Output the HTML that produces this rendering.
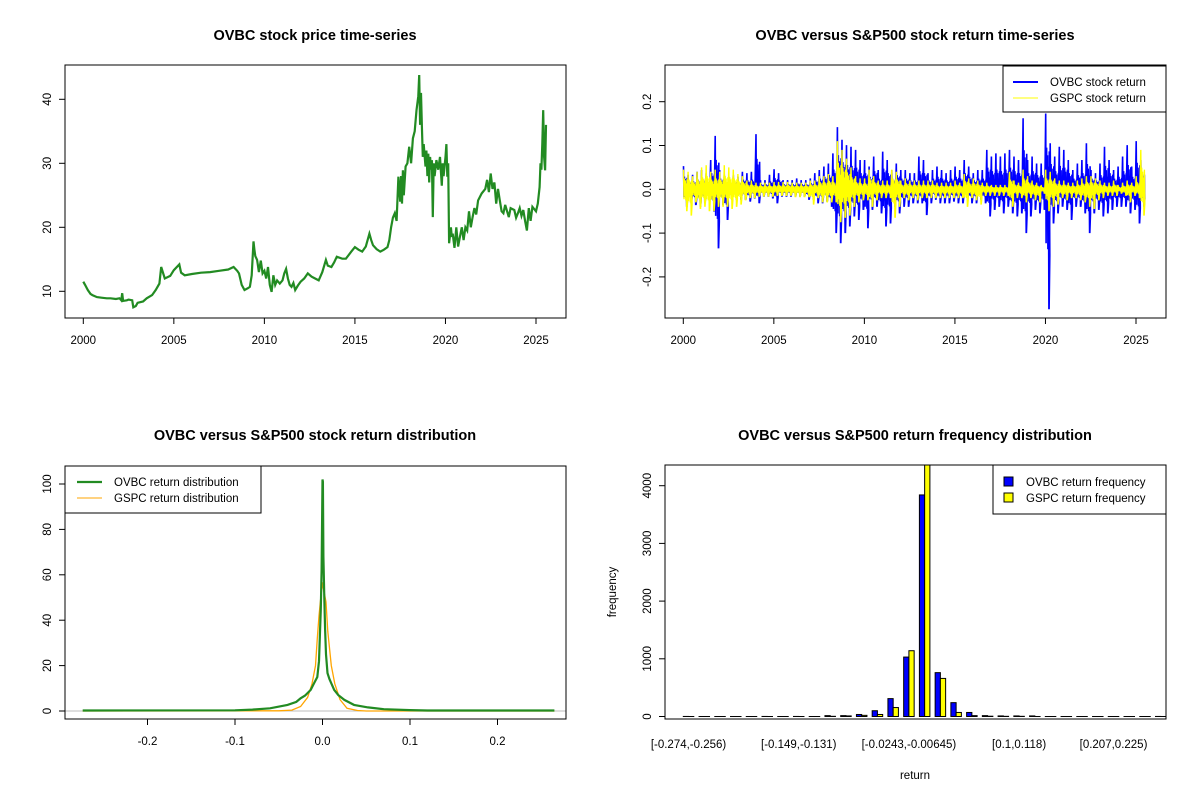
<!DOCTYPE html>
<html><head><meta charset="utf-8">
<style>
html,body{margin:0;padding:0;background:#fff;}
svg{display:block;font-family:"Liberation Sans",Arial,sans-serif;}
.t{font-weight:bold;font-size:14.5px;text-anchor:middle;}
.tk{font-size:11.5px;}
</style></head>
<body>
<svg id="fig" width="1200" height="800" viewBox="0 0 1200 800" xmlns="http://www.w3.org/2000/svg">
<rect width="1200" height="800" fill="#fff"/>
</svg>
<script>
// ---------- data: price ----------
const priceYears=[2000.0,2000.1,2000.25,2000.4,2000.5,2000.75,2001.0,2001.3,2001.5,2001.8,2002.0,2002.1,2002.15,2002.2,2002.4,2002.5,2002.7,2002.76,2002.9,2003.0,2003.3,2003.5,2003.8,2004.0,2004.2,2004.3,2004.5,2004.8,2005.0,2005.3,2005.4,2005.6,2006.0,2006.5,2007.0,2007.5,2008.0,2008.3,2008.5,2008.6,2008.75,2008.9,2009.1,2009.2,2009.3,2009.4,2009.45,2009.5,2009.6,2009.7,2009.8,2009.9,2010.0,2010.1,2010.2,2010.3,2010.4,2010.5,2010.6,2010.7,2010.85,2011.0,2011.1,2011.2,2011.3,2011.4,2011.5,2011.6,2011.7,2011.85,2012.0,2012.2,2012.4,2012.6,2012.8,2013.0,2013.2,2013.4,2013.5,2013.7,2013.85,2014.0,2014.3,2014.5,2014.8,2015.0,2015.2,2015.4,2015.6,2015.8,2015.9,2016.0,2016.2,2016.4,2016.6,2016.8,2016.9,2017.0,2017.1,2017.2,2017.3,2017.4,2017.5,2017.55,2017.6,2017.65,2017.7,2017.8,2017.9,2018.0,2018.1,2018.2,2018.3,2018.4,2018.5,2018.55,2018.6,2018.65,2018.7,2018.75,2018.8,2018.9,2018.95,2019.0,2019.05,2019.1,2019.15,2019.2,2019.25,2019.3,2019.35,2019.4,2019.5,2019.6,2019.7,2019.8,2019.85,2019.9,2020.0,2020.05,2020.1,2020.15,2020.2,2020.3,2020.35,2020.4,2020.5,2020.6,2020.7,2020.8,2020.9,2021.0,2021.1,2021.2,2021.3,2021.4,2021.5,2021.6,2021.7,2021.8,2022.0,2022.2,2022.3,2022.4,2022.5,2022.6,2022.7,2022.8,2022.9,2023.0,2023.1,2023.2,2023.3,2023.5,2023.6,2023.8,2023.9,2024.0,2024.1,2024.2,2024.3,2024.4,2024.5,2024.6,2024.7,2024.8,2025.0,2025.1,2025.2,2025.25,2025.3,2025.35,2025.4,2025.45,2025.5,2025.55];
const priceValues=[11.5,11.0,10.2,9.6,9.4,9.1,9.0,8.9,8.9,8.8,8.9,8.6,9.7,8.5,8.6,8.7,8.6,7.5,7.7,8.2,8.4,8.9,9.4,10.2,11.2,13.8,12.0,12.4,13.3,14.2,12.9,12.5,12.7,12.9,13.0,13.2,13.4,13.8,13.2,12.8,11.0,10.2,10.5,10.7,12.5,17.8,16.5,15.5,14.9,13.0,14.8,12.8,13.2,12.0,13.8,11.0,9.9,12.5,11.0,11.7,11.2,11.7,12.8,13.5,12.0,11.0,10.7,11.3,10.2,10.9,11.5,12.0,12.8,12.3,12.0,11.7,13.0,14.9,14.0,13.8,14.5,15.4,15.1,15.1,16.2,16.9,16.5,16.2,17.0,19.0,18.0,17.2,16.6,16.2,16.5,16.9,18.0,20.0,21.5,22.2,21.0,27.9,24.0,28.0,23.7,28.9,25.0,29.5,30.0,32.6,30.0,33.9,35.0,38.3,40.5,43.8,36.0,41.0,35.7,31.0,33.0,29.5,32.0,28.0,31.5,27.0,31.0,29.0,30.5,21.6,30.0,28.0,30.5,29.0,31.0,26.5,30.0,28.0,31.0,33.0,27.9,30.0,17.5,20.0,18.5,19.0,16.8,20.0,17.0,18.5,20.0,18.0,20.0,19.5,22.5,20.0,21.6,23.0,22.0,24.2,25.3,26.0,27.4,25.5,28.4,26.0,27.0,23.7,26.0,24.2,22.5,22.2,23.5,21.6,23.0,22.7,21.5,22.2,23.0,21.8,22.7,21.0,19.5,23.0,21.0,23.2,22.5,23.7,26.3,30.0,29.0,33.0,38.3,31.0,28.9,36.0,35.7];
const priceYTicks=[10,20,30,40];
const yearTicks=[2000,2005,2010,2015,2020,2025];
// ---------- data: returns (quarterly high / low) ----------
const ovbcHi=[0.053,0.033,0.033,0.040, 0.044,0.037,0.067,0.122, 0.044,0.033,0.029,0.033, 0.029,0.040,0.037,0.040, 0.126,0.021,0.021,0.033, 0.046,0.037,0.021,0.021, 0.021,0.025,0.021,0.021, 0.025,0.037,0.044,0.052, 0.059,0.082,0.142,0.113, 0.101,0.097,0.090,0.067, 0.067,0.052,0.075,0.044, 0.086,0.067,0.044,0.059, 0.044,0.044,0.037,0.037, 0.075,0.067,0.037,0.044, 0.052,0.044,0.037,0.044, 0.052,0.044,0.067,0.052, 0.037,0.044,0.044,0.090, 0.075,0.082,0.075,0.082, 0.090,0.075,0.067,0.162, 0.067,0.075,0.059,0.059, 0.173,0.105,0.075,0.097, 0.090,0.067,0.044,0.059, 0.067,0.105,0.044,0.037, 0.059,0.097,0.067,0.044, 0.052,0.075,0.101,0.052, 0.110,0.067];
const ovbcLo=[-0.040,-0.032,-0.036,-0.040, -0.032,-0.024,-0.051,-0.135, -0.036,-0.070,-0.024,-0.024, -0.024,-0.024,-0.028,-0.021, -0.032,-0.017,-0.017,-0.021, -0.032,-0.017,-0.017,-0.017, -0.017,-0.017,-0.017,-0.024, -0.024,-0.032,-0.032,-0.028, -0.040,-0.100,-0.123,-0.100, -0.085,-0.062,-0.070,-0.047, -0.089,-0.047,-0.040,-0.055, -0.085,-0.078,-0.040,-0.055, -0.040,-0.040,-0.032,-0.032, -0.032,-0.059,-0.032,-0.024, -0.032,-0.032,-0.032,-0.028, -0.032,-0.032,-0.024,-0.032, -0.032,-0.024,-0.032,-0.062, -0.047,-0.040,-0.055,-0.040, -0.055,-0.062,-0.055,-0.100, -0.062,-0.047,-0.055,-0.047, -0.274,-0.078,-0.055,-0.040, -0.047,-0.070,-0.040,-0.040, -0.055,-0.100,-0.055,-0.047, -0.062,-0.055,-0.047,-0.040, -0.040,-0.040,-0.055,-0.047, -0.078,-0.040];
const gspcHi=[0.045,0.040,0.030,0.040, 0.050,0.055,0.040,0.045, 0.040,0.055,0.050,0.045, 0.035,0.030,0.020,0.020, 0.015,0.015,0.015,0.015, 0.017,0.017,0.017,0.017, 0.015,0.015,0.015,0.015, 0.020,0.020,0.030,0.030, 0.035,0.030,0.110,0.090, 0.070,0.050,0.030,0.025, 0.025,0.045,0.030,0.020, 0.020,0.020,0.045,0.040, 0.020,0.025,0.020,0.020, 0.020,0.020,0.020,0.020, 0.015,0.015,0.015,0.015, 0.020,0.015,0.035,0.025, 0.025,0.020,0.015,0.015, 0.010,0.010,0.010,0.010, 0.040,0.020,0.015,0.045, 0.030,0.020,0.015,0.010, 0.045,0.040,0.025,0.020, 0.020,0.015,0.015,0.020, 0.025,0.030,0.030,0.025, 0.020,0.015,0.015,0.020, 0.010,0.015,0.020,0.015, 0.030,0.090];
const gspcLo=[-0.050,-0.060,-0.030,-0.045, -0.040,-0.050,-0.050,-0.040, -0.040,-0.040,-0.045,-0.040, -0.035,-0.025,-0.020,-0.020, -0.017,-0.017,-0.017,-0.017, -0.015,-0.015,-0.015,-0.015, -0.018,-0.018,-0.018,-0.018, -0.035,-0.020,-0.030,-0.030, -0.030,-0.030,-0.075,-0.065, -0.060,-0.040,-0.030,-0.025, -0.025,-0.040,-0.025,-0.020, -0.020,-0.020,-0.065,-0.040, -0.020,-0.025,-0.020,-0.025, -0.020,-0.020,-0.020,-0.020, -0.020,-0.020,-0.020,-0.020, -0.020,-0.020,-0.040,-0.020, -0.025,-0.035,-0.015,-0.015, -0.015,-0.015,-0.015,-0.015, -0.040,-0.020,-0.020,-0.030, -0.020,-0.025,-0.030,-0.010, -0.050,-0.040,-0.035,-0.020, -0.025,-0.020,-0.020,-0.025, -0.030,-0.040,-0.045,-0.025, -0.020,-0.015,-0.015,-0.015, -0.010,-0.015,-0.030,-0.015, -0.020,-0.060];
const retYTicks=[-0.2,-0.1,0.0,0.1,0.2];
const retYLabels=["-0.2","-0.1","0.0","0.1","0.2"];
// ---------- data: densities ----------
const ovbcDenX=[-0.274,-0.1,-0.08,-0.06,-0.04,-0.03,-0.025,-0.02,-0.0135,-0.01,-0.006,-0.004,-0.002,-0.001,0.0,0.0005,0.001,0.002,0.003,0.004,0.0057,0.008,0.0134,0.018,0.025,0.036,0.052,0.07,0.1,0.12,0.265];
const ovbcDenY=[0.2,0.3,0.6,1.2,2.7,4.0,5.6,6.8,9.3,12,15,22,45,62,102,101,68,50,36,25,16.7,14,9.3,7,4.9,2.7,1.6,0.8,0.4,0.2,0.2];
const gspcDenX=[-0.274,-0.05,-0.035,-0.025,-0.017,-0.012,-0.008,-0.006,-0.004,-0.002,0.0,0.0005,0.002,0.004,0.006,0.01,0.014,0.02,0.028,0.04,0.05,0.265];
const gspcDenY=[0.0,0.1,0.4,2,6,12,20,32,42,50,56.7,55,52,48,35,20,12,5,1.2,0.2,0.0,0.0];
const denXTicks=[-0.2,-0.1,0.0,0.1,0.2];
const denYTicks=[0,20,40,60,80,100];
// ---------- data: histogram ----------
const binLabels=["[-0.274,-0.256)","","","","","","","[-0.149,-0.131)","","","","","","","[-0.0243,-0.00645)","","","","","","","[0.1,0.118)","","","","","","[0.207,0.225)","","",""];
const ovbcFreq=[1,0,0,0,0,1,0,1,0,15,15,35,100,310,1030,3840,760,240,70,15,10,10,10,0,0,0,0,0,0,0,1];
const gspcFreq=[0,0,0,0,0,0,0,0,0,3,10,20,35,155,1140,4700,660,70,15,5,3,3,0,0,0,0,0,0,0,0,0];
const histYTicks=[0,1000,2000,3000,4000];

// ---------- helpers ----------
const NS="http://www.w3.org/2000/svg";
const svg=document.getElementById('fig');
function el(tag,attrs,parent){const e=document.createElementNS(NS,tag);for(const k in attrs)e.setAttribute(k,attrs[k]);(parent||svg).appendChild(e);return e;}
function txt(s,attrs,parent){const e=el('text',attrs,parent);e.textContent=s;return e;}
function lin(d0,d1,r0,r1){return v=>r0+(v-d0)/(d1-d0)*(r1-r0);}

function panel(name){
  const g=el('g',{});
  
  
  return g;
}
function frame(g,L,T,R,B){
  const f=el('rect',{x:L,y:T,width:R-L,height:B-T,fill:'none',stroke:'#000','stroke-width':1},g);
  
  
}
function yAxis(g,ticks,labels,sy,L){
  const a=el('g',{},g);
  
  
  el('line',{x1:L,x2:L,y1:sy(ticks[0]),y2:sy(ticks[ticks.length-1]),stroke:'#000'},a);
  ticks.forEach((t,i)=>{
    const y=sy(t);
    el('line',{x1:L-6,x2:L,y1:y,y2:y,stroke:'#000'},a);
    const tx=txt(labels[i],{x:L-14,y:y,class:'tk','text-anchor':'middle',transform:`rotate(-90 ${L-14} ${y})`},a);
    
    
  });
}
function xAxis(g,ticks,labels,sx,B){
  const a=el('g',{},g);
  
  
  el('line',{x1:sx(ticks[0]),x2:sx(ticks[ticks.length-1]),y1:B,y2:B,stroke:'#000'},a);
  ticks.forEach((t,i)=>{
    const x=sx(t);
    el('line',{x1:x,x2:x,y1:B,y2:B+6,stroke:'#000'},a);
    const tx=txt(labels[i],{x:x,y:B+26,class:'tk','text-anchor':'middle'},a);
    
    
  });
}
function title(g,s,x,y){const t=txt(s,{x:x,y:y,class:'t'},g);}

// ---------- panel 1: price ----------
(function(){
  const L=65,T=65,R=566,B=318;
  const g=panel('price-chart');
  const sx=lin(2000,2025,83.3,536);
  const sy=lin(10,40,291.3,99.3);
  const pts=priceYears.map((y,i)=>sx(y).toFixed(1)+','+sy(priceValues[i]).toFixed(1)).join(' ');
  const p=el('polyline',{points:pts,fill:'none',stroke:'#228B22','stroke-width':2.2,'stroke-linejoin':'miter'},g);
  
  
  frame(g,L,T,R,B);
  yAxis(g,priceYTicks,priceYTicks.map(String),sy,L);
  xAxis(g,yearTicks,yearTicks.map(String),sx,B);
  title(g,'OVBC stock price time-series',315,40);
})();

// ---------- panel 2: returns ----------
(function(){
  const L=665,T=65,R=1166,B=318;
  const g=panel('return-chart');
  const sx=lin(2000,2025,683.3,1136);
  const sy=lin(0,0.1,189.3,145.5);
  const fr=[1,0.35,0.55,0.3,0.45,0.6,0.3,0.4,0.5,0.35];
  function zig(hi,lo,color,w,name){
    const pts=[];
    hi.forEach((h,i)=>{
      const t=2000+i*0.25;
      for(let k=0;k<10;k++){
        const tt=t+0.0125+k*0.025;
        const v=(k%2===0)? h*fr[k] : lo[i]*fr[(k+3)%10];
        pts.push(sx(tt).toFixed(1)+','+sy(v).toFixed(1));
      }
      pts.push(sx(t+0.2).toFixed(1)+','+sy(lo[i]).toFixed(1));
    });
    const p=el('polyline',{points:pts.join(' '),fill:'none',stroke:color,'stroke-width':w},g);
    
    
  }
  zig(ovbcHi,ovbcLo,'#0000FF',1.6,'ovbc-return-line');
  zig(gspcHi,gspcLo,'#FFFF00',1.4,'gspc-return-line');
  frame(g,L,T,R,B);
  yAxis(g,retYTicks,retYLabels,sy,L);
  xAxis(g,yearTicks,yearTicks.map(String),sx,B);
  title(g,'OVBC versus S&P500 stock return time-series',915,40);
  const lg=el('g',{},g);
  
  
  el('rect',{x:1003,y:66,width:163,height:46,fill:'#fff',stroke:'#000'},lg);
  el('line',{x1:1013,x2:1038,y1:82,y2:82,stroke:'#0000FF','stroke-width':2},lg);
  el('line',{x1:1013,x2:1038,y1:98,y2:98,stroke:'#FFFF00','stroke-width':1},lg);
  const a=txt('OVBC stock return',{x:1050,y:86,class:'tk'},lg);
  
  const b=txt('GSPC stock return',{x:1050,y:102,class:'tk'},lg);
  
})();

// ---------- panel 3: density ----------
(function(){
  const L=65,T=466,R=566,B=719;
  const g=panel('density-chart');
  const sx=lin(0,0.1,322.5,410);
  const sy=lin(0,100,711,484);
  const gl=el('line',{x1:L,x2:R,y1:sy(0),y2:sy(0),stroke:'#BEBEBE'},g);
  
  function curve(xs,ys,color,w,name){
    const pts=xs.map((x,i)=>sx(x).toFixed(1)+','+sy(ys[i]).toFixed(1)).join(' ');
    const p=el('polyline',{points:pts,fill:'none',stroke:color,'stroke-width':w},g);
    
    
  }
  curve(gspcDenX,gspcDenY,'#FFA500',1.3,'gspc-density-line');
  curve(ovbcDenX,ovbcDenY,'#228B22',2.2,'ovbc-density-line');
  frame(g,L,T,R,B);
  yAxis(g,denYTicks,denYTicks.map(String),sy,L);
  xAxis(g,denXTicks,["-0.2","-0.1","0.0","0.1","0.2"],sx,B);
  title(g,'OVBC versus S&P500 stock return distribution',315,440);
  const lg=el('g',{},g);
  
  
  el('rect',{x:65,y:466,width:196,height:47,fill:'#fff',stroke:'#000'},lg);
  el('line',{x1:77,x2:102,y1:482,y2:482,stroke:'#228B22','stroke-width':2.3},lg);
  el('line',{x1:77,x2:102,y1:498,y2:498,stroke:'#FFA500','stroke-width':1},lg);
  const a=txt('OVBC return distribution',{x:114,y:486,class:'tk'},lg);
  
  const b=txt('GSPC return distribution',{x:114,y:502,class:'tk'},lg);
  
})();

// ---------- panel 4: histogram ----------
(function(){
  const L=665,T=465,R=1166,B=719;
  const g=panel('histogram-chart');
  const gw=15.74, bw=gw/3, x0=683.3;
  const sy=lin(0,1000,716.5,658.8);
  const cp=el('clipPath',{id:'hc'},g);
  el('rect',{x:L,y:T,width:R-L,height:B-T},cp);
  const bars=el('g',{'clip-path':'url(#hc)'},g);
  ovbcFreq.forEach((v,i)=>{
    const x=x0+i*gw;
    const r1=el('rect',{x:x,y:sy(v),width:bw,height:Math.max(sy(0)-sy(v),0.01),fill:'#0000FF',stroke:'#000','stroke-width':1},bars);
    
    
    const w=gspcFreq[i];
    const r2=el('rect',{x:x+bw,y:sy(w),width:bw,height:Math.max(sy(0)-sy(w),0.01),fill:'#FFFF00',stroke:'#000','stroke-width':1},bars);
    
    
  });
  frame(g,L,T,R,B);
  yAxis(g,histYTicks,histYTicks.map(String),sy,L);
  binLabels.forEach((s,i)=>{
    if(!s)return;
    const t=txt(s,{x:x0+i*gw+bw,y:748,class:'tk','text-anchor':'middle'},g);
    
    
  });
  const xt=txt('return',{x:915,y:779,class:'tk','text-anchor':'middle'},g);
  
  const yt=txt('frequency',{x:616,y:592,class:'tk','text-anchor':'middle',transform:'rotate(-90 616 592)'},g);
  
  title(g,'OVBC versus S&P500 return frequency distribution',915,440);
  const lg=el('g',{},g);
  
  
  el('rect',{x:993,y:465,width:173,height:49,fill:'#fff',stroke:'#000'},lg);
  el('rect',{x:1004,y:477,width:9,height:9,fill:'#0000FF',stroke:'#000'},lg);
  el('rect',{x:1004,y:493,width:9,height:9,fill:'#FFFF00',stroke:'#000'},lg);
  const a=txt('OVBC return frequency',{x:1026,y:486,class:'tk'},lg);
  
  const b=txt('GSPC return frequency',{x:1026,y:502,class:'tk'},lg);
  
})();
</script>
</body></html>
